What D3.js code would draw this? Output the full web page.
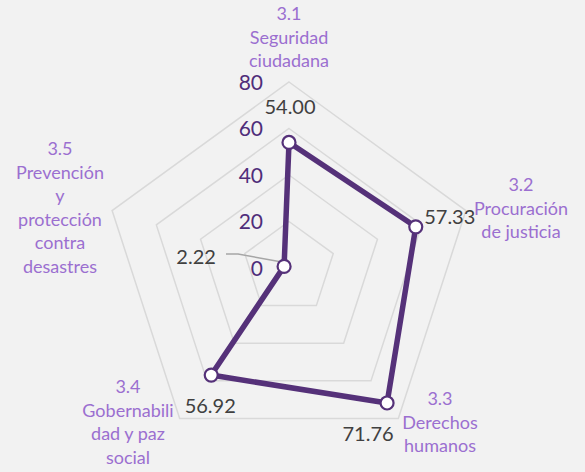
<!DOCTYPE html>
<html>
<head>
<meta charset="utf-8">
<script src="https://cdn.jsdelivr.net/npm/d3@7"></script>
<style>
  body { margin: 0; background: #f2f2f2; }
  svg { display: block; font-family: Lato, "Open Sans", sans-serif; }
</style>
</head>
<body>
<svg width="585" height="472"></svg>
<script>
// chart data
var categories = [
    ["3.1", "Seguridad", "ciudadana"],
    ["3.2", "Procuración", "de justicia"],
    ["3.3", "Derechos", "humanos"],
    ["3.4", "Gobernabili", "dad y paz", "social"],
    ["3.5", "Prevención", "y", "protección", "contra", "desastres"]
];
var values = [54.00, 57.33, 71.76, 56.92, 2.22];
var ticks = [0, 20, 40, 60, 80];

var svg = d3.select("svg");
var cx = 289, cy = 268;

// radius scale for the value axis
var r = d3.scaleLinear().domain([0, 80]).range([0, 186]);

// angle of each axis, first one pointing up, clockwise
var angle = d3.scaleLinear().domain([0, categories.length]).range([0, 2 * Math.PI]);

function pos(i, v) {
    var a = angle(i);
    return [cx + r(v) * Math.sin(a), cy - r(v) * Math.cos(a)];
}

// background
svg.append("rect").attr("width", 585).attr("height", 472).attr("fill", "#f2f2f2");

// grid pentagons
var grid = svg.append("g");
ticks.slice(1).forEach(function (t) {
    grid.append("polygon")
        .attr("points", categories.map(function (c, i) { return pos(i, t).join(","); }).join(" "))
        .attr("fill", "none")
        .attr("stroke", "#d9d9d9")
        .attr("stroke-width", 1.5);
});

// tick labels along the first axis
svg.append("g").selectAll("text")
    .data(ticks)
    .enter()
    .append("text")
    .attr("x", cx - 26)
    .attr("y", function (d) { return cy - r(d); })
    .attr("dy", "0.36em")
    .attr("text-anchor", "end")
    .attr("font-size", 21)
    .attr("fill", "#4f2d7a")
    .text(function (d) { return d; });

// leader line for the small value
var pTop = pos(0, values[4]);
svg.append("path")
    .attr("d", "M" + (cx - 63) + "," + (cy - 14) + "H" + (cx - 51) + "L" + (pTop[0] - 3) + "," + (pTop[1]))
    .attr("fill", "none")
    .attr("stroke", "#a6a6a6")
    .attr("stroke-width", 1.5);

// data line
var pts = values.map(function (v, i) { return pos(i, v); });
var line = d3.line().curve(d3.curveLinearClosed);
svg.append("path")
    .attr("d", line(pts))
    .attr("fill", "none")
    .attr("stroke", "#553179")
    .attr("stroke-width", 5.5)
    .attr("stroke-linejoin", "round");

svg.append("g").selectAll("circle")
    .data(pts)
    .enter()
    .append("circle")
    .attr("cx", function (d) { return d[0]; })
    .attr("cy", function (d) { return d[1]; })
    .attr("r", 6.5)
    .attr("fill", "#ffffff")
    .attr("stroke", "#553179")
    .attr("stroke-width", 2.2);

// data labels, offsets from each point
var labelOffsets = [[1, -36], [34, -10], [-19, 31], [-1, 31], [-88, -10]];
svg.append("g").selectAll("text")
    .data(values)
    .enter()
    .append("text")
    .attr("x", function (d, i) { return pts[i][0] + labelOffsets[i][0]; })
    .attr("y", function (d, i) { return pts[i][1] + labelOffsets[i][1]; })
    .attr("dy", "0.36em")
    .attr("text-anchor", "middle")
    .attr("font-size", 20)
    .attr("fill", "#404040")
    .text(function (d) { return d.toFixed(2); });

// category labels, first line center
var catAnchors = [[289, 14], [521, 185], [440, 399], [128, 387], [60, 149]];
var cats = svg.append("g");
categories.forEach(function (c, i) {
    var t = cats.append("text")
        .attr("text-anchor", "middle")
        .attr("font-size", 18)
        .attr("fill", "#9b6fd0");
    c.forEach(function (s, k) {
        t.append("tspan")
            .attr("x", catAnchors[i][0])
            .attr("y", catAnchors[i][1] + k * 23.5)
            .attr("dy", "0.36em")
            .text(s);
    });
});
</script>
</body>
</html>
